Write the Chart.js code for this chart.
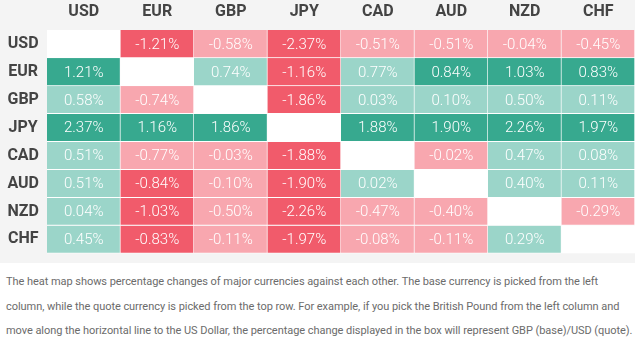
<!DOCTYPE html>
<html>
<head>
<meta charset="utf-8">
<script src="https://cdn.jsdelivr.net/npm/chart.js@4"></script>
<style>
	body { margin: 0; background: #ffffff; }
	#heat-wrap { position: relative; width: 635px; height: 263px; background: #f4f4f4; }
	#note {
		margin: 0;
		padding: 7px 0 0 6px;
		font-family: "Liberation Sans Narrow", Roboto, sans-serif;
		font-size: 11px;
		letter-spacing: -0.05px;
		line-height: 24.5px;
		color: #6b6b6b;
		white-space: nowrap;
	}
</style>
</head>
<body>
<div id="heat-wrap"><canvas id="chart"></canvas></div>
<p id="note">The heat map shows percentage changes of major currencies against each other. The base currency is picked from the left<br>column, while the quote currency is picked from the top row. For example, if you pick the British Pound from the left column and<br>move along the horizontal line to the US Dollar, the percentage change displayed in the box will represent GBP (base)/USD (quote).</p>
<script>
// DATA: rows are base currencies, columns are quote currencies
const currencies = ["USD", "EUR", "GBP", "JPY", "CAD", "AUD", "NZD", "CHF"];
const usd = [null, -1.21, -0.58, -2.37, -0.51, -0.51, -0.04, -0.45];
const eur = [1.21, null, 0.74, -1.16, 0.77, 0.84, 1.03, 0.83];
const gbp = [0.58, -0.74, null, -1.86, 0.03, 0.10, 0.50, 0.11];
const jpy = [2.37, 1.16, 1.86, null, 1.88, 1.90, 2.26, 1.97];
const cad = [0.51, -0.77, -0.03, -1.88, null, -0.02, 0.47, 0.08];
const aud = [0.51, -0.84, -0.10, -1.90, 0.02, null, 0.40, 0.11];
const nzd = [0.04, -1.03, -0.50, -2.26, -0.47, -0.40, null, -0.29];
const chf = [0.45, -0.83, -0.11, -1.97, -0.08, -0.11, 0.29, null];
const rows = [usd, eur, gbp, jpy, cad, aud, nzd, chf];

const dark_red = "#f15b6b";
const light_red = "#f8a7af";
const dark_green = "#37a98f";
const light_green = "#9bd5c9";

function cell_color(v) {
	if (v === null) return "#ffffff";
	if (v <= -0.8) return dark_red;
	if (v < 0) return light_red;
	if (v >= 0.8) return dark_green;
	return light_green;
}

// each row is a dataset of unit-high stacked bars
const datasets = rows.map((row, i) => ({
	label: currencies[i],
	data: row.map(_ => 1),
	values: row,
	yAxisID: "y",
	backgroundColor: row.map(v => cell_color(v)),
	borderColor: "#ffffff",
	borderWidth: { top: 0, left: 0, right: 1, bottom: 1 },
	borderSkipped: false,
	barPercentage: 1,
	categoryPercentage: 1
}));

const cell_labels = {
	id: "cell_labels",
	afterDatasetsDraw(chart) {
		const ctx = chart.ctx;
		ctx.save();
		ctx.font = "300 15px Roboto";
		ctx.fillStyle = "#ffffff";
		ctx.textAlign = "center";
		ctx.textBaseline = "middle";
		chart.data.datasets.forEach((ds, i) => {
			const meta = chart.getDatasetMeta(i);
			meta.data.forEach((bar, j) => {
				const v = ds.values[j];
				if (v === null) return;
				const p = bar.getCenterPoint();
				ctx.fillText(v.toFixed(2) + "%", p.x, p.y + 1);
			});
		});
		ctx.restore();
	}
};

const label_font = { family: "Roboto", size: 16, weight: "bold" };

new Chart(document.getElementById("chart"), {
	type: "bar",
	data: { labels: currencies, datasets: datasets },
	options: {
		responsive: true,
		maintainAspectRatio: false,
		animation: false,
		layout: { padding: 0 },
		plugins: {
			legend: { display: false },
			tooltip: { enabled: false }
		},
		scales: {
			x: {
				type: "category",
				position: "top",
				stacked: true,
				offset: true,
				grid: { display: false },
				border: { display: false },
				ticks: { font: label_font, color: "#444444", padding: 0 },
				afterFit: scale => { scale.height = 30; }
			},
			y: {
				type: "linear",
				position: "right",
				stacked: true,
				reverse: true,
				min: 0,
				max: currencies.length,
				display: true,
				grid: { display: false },
				border: { display: false },
				ticks: { display: false },
				afterFit: scale => { scale.width = 0; }
			},
			rowNames: {
				type: "category",
				position: "left",
				labels: currencies,
				offset: true,
				grid: { display: false },
				border: { display: false },
				ticks: { font: label_font, color: "#444444", crossAlign: "center", padding: 0 },
				afterFit: scale => { scale.width = 47; }
			}
		}
	},
	plugins: [cell_labels]
});
</script>
</body>
</html>
